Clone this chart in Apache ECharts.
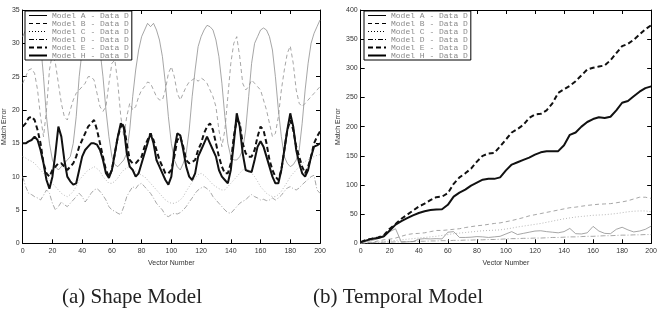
<!DOCTYPE html>
<html>
<head>
<meta charset="utf-8">
<script src="https://cdn.jsdelivr.net/npm/echarts@6/dist/echarts.min.js"></script>
<style>html,body{margin:0;padding:0;background:#fff}#c{width:660px;height:325px}</style>
</head>
<body>
<div id="c"></div>
<script>
// ---------- Data ----------
const seriesNames = ['Model A - Data D','Model B - Data D','Model C - Data D','Model D - Data D','Model E - Data D','Model H - Data D'];
const xTicks = [0,20,40,60,80,100,120,140,160,180,200];

// (a) Shape Model: x samples
const shapeX = [0,2,4,6,8,10,12,14,16,18,20,22,24,26,28,30,32,34,36,38,40,42,44,46,48,50,52,54,56,58,60,62,64,66,68,70,72,74,76,78,80,82,84,86,88,90,92,94,96,98,100,102,104,106,108,110,112,114,116,118,120,122,124,126,128,130,132,134,136,138,140,142,144,146,148,150,152,154,156,158,160,162,164,166,168,170,172,174,176,178,180,182,184,186,188,190,192,194,196,198,200];
const shapeA = [31,32,33,33.5,34,33,30,25,19,15,12.5,11.5,11,11.5,12,12.5,13,15,19,25,29,32,33.5,34,33.5,32,29,25,20,16,13,11.8,11.5,12,12.5,13.5,17,22,26,29,31,32,33,32.5,33,32,30.5,28,24,19,15,12.5,11.5,11,12,13.5,17,22,26,29.5,31,32,32.7,32.5,32,30.5,28,24,19,15,13,12.5,12.5,13,14,17,22,27,30,31,32,32.3,32,31,29,25,20,16,13,12,11.5,11.8,12.5,14,18,23,27,30,31.5,32.5,33.5];
const shapeB = [24,25,26,26.2,25.5,23,19,16,20,26,28.5,27,24,21,19,18.5,20,21.5,22.5,23,23.5,24,25,25,24.5,22.5,20.5,19.8,20.5,24,27,27.5,24,19,16,19,21,20,20.5,22,23,23.5,24.2,24,23,22,21.5,21.5,23,25.5,26.5,25,22.5,21.5,22.5,23.5,24.2,24.5,24.8,24.3,24.8,24.5,24,23,22,20.5,17,14.5,17,22,27,30,31,28,24,23,23.5,24.5,24,23.5,23,21.5,20,18,16,16.5,19,23,26,28.5,29.6,27,23,21,20.5,21,21.5,22,22.5,23,23.5];
const shapeC = [13,12.8,12.5,12.3,12,11.5,11,10.5,10,9.5,9,8.5,8,7.5,7.2,7,7.3,7.8,8.5,9.5,10,10.5,11,11.2,11.5,11.2,10.8,10,9.5,9,9,9.3,9.8,10.5,11,11.3,11.5,11.2,10.8,10.5,10.2,10,9.5,9,8.5,8,7.5,7,6.5,6.2,6,6,6.2,6.5,7,7.8,8.5,9.2,9.8,10.3,10.5,10.2,9.8,9.3,8.8,8.5,8.2,8,8,8.5,9,9.5,10,10.5,11,11.2,11,10.5,10,9.3,8.5,8,7.5,7.2,7,7,7.3,7.8,8.5,9.2,10,10.5,11,11.5,12,12.3,12.5,12.8,13,13.2,13.3];
const shapeD = [10,8.5,7.5,7.3,7,6.8,6.5,7.2,8,7.5,6,5,5.5,6.2,5.8,5.5,6,6.5,7,7.5,7,6.2,6.8,7.5,8,8.2,7.8,7.2,6.5,5.5,5,4.8,4.5,4.3,5.5,7,7.8,8.5,8.2,8.8,9,8.5,8,7.5,6.8,6,5.5,5,4.2,4,4.3,4.5,4.4,4.6,5,5.5,6.2,6.8,7.5,8,8.3,8.5,8.2,7.8,7,6.5,6,5.5,5,4.6,4.5,5,5.5,6,6.3,6.5,7,7.3,7,6.8,6.5,6.6,6.4,6.5,6.8,6.5,6.8,7.2,7.8,8.3,8.5,8.2,8,8.3,8.8,9.2,9.6,10,10.2,8,7.5];
const shapeE = [17.5,18,18.8,19,18.5,17,15,12,10.5,10,11,11.5,12,12,11.5,11,11.5,12,13,14.5,15.5,16.5,17.5,18,18.5,17,15,13,11,10,11,13.5,16,17.5,17.8,15,12.5,12,12,12.5,13,14.5,15.5,16.5,15.5,14,12.5,11.5,10.5,10.5,11,13,15.5,16,14.5,12.5,12,12.2,12.5,14,15,16.5,17.5,18,17,15,13,11.5,10.5,10.5,12,16,18.5,18,15,13.5,13,13,14,16,17.5,17,15,12.5,11,10,9.5,11,14,17,18.5,17,14.5,13,11.5,10.5,11.5,13,15,16,16.8];
const shapeH = [15,15,15.3,15.5,16,15.5,14,12,9.5,8.2,10,13.5,17.5,16,12.5,10,9.3,8.8,9,11,13,14,14.5,15,15,14.8,14,12.5,10.5,9.8,11,13.5,16,18,17.5,13.5,11.5,11,10,10.5,12,13.5,15,16.5,15,12.5,11.5,10.5,9.5,8.8,10,14,16.5,16.2,14,11.5,10,9.5,10.5,13,14,15,16,15,14,13,11,10,9.5,9,11,15,19.5,17.5,13.5,11,10.8,10.7,12.5,14.5,15.3,14.5,13,11.5,10,9,9,11,14,17,19.5,17.5,14,12,10.5,10,11,13,14.5,14.7,15];

// (b) Temporal Model: x samples
const tempX = [0,4,8,12,16,20,24,28,32,36,40,44,48,52,56,60,64,68,72,76,80,84,88,92,96,100,104,108,112,116,120,124,128,132,136,140,144,148,152,156,160,164,168,172,176,180,184,188,192,196,200];
const tempA = [2,3,5,8,11,20,25,2,2.5,3,7,8,7.5,8,7.5,19,20,10,10,10.5,11.5,11,10,11,12,16,20,15,17,19,21,21.5,20,19,18,20,25.5,16.5,16,18,29,21,17,16.5,24,27.5,23,19.5,21,24,29.5];
const tempB = [0,1,2,4,6,7,9,12,15,16.5,17,18,20,22,22,23,24,25,27,28.5,30,31,32.5,34,35,37,39,41.5,44,47,49,51,53,55,57,59,61,62,63.5,65,66,67,67.5,68,69.5,71,73,76,79,79,77];
const tempC = [0,0.5,1,2,3,4,5,6,7,8,9,10,11,12,13.5,15,16.5,17.5,18.5,19.5,20.5,21.5,22,22.5,23,24.5,26,28,29.5,31,32.5,34,36,38,40,42,43.5,45,46,47,48,48.5,49,50,51,52.5,54,55,55.5,55.5,54];
const tempD = [0,0.5,1,1.5,2,2,2.5,2.5,3,3,3.5,3.5,4,4,4.5,4.5,5,5,5.5,5.5,6,6,6.5,6.5,7,7.5,8,8,8.5,8.5,9,9,9.5,10,10,10.5,11,11,11.5,12,12,12.5,13,13,13.5,14,14,14.5,14.5,15,15];
const tempE = [2,6,8,10,14,25,33,42,49,56,63,68,74,79,80,86,102,113,120,128,140,150,154,155,166,178,190,196,203,215,221,222,228,240,258,264,270,278,288,298,301,303,305,314,326,338,342,349,358,367,374];
const tempH = [2,5,8,9,12,22,32,38,43,48,52,55,57,58,58.5,66,80,87,92,99,104,109,110.5,110.5,113,125,135,139,143,147,152,156,158,158,158,168,186,190,200,208,213,216,215,217,228,241,244,252,260,266,269];

// ---------- Chart ----------
const styles = [
  {color:'#8f8f8f', width:0.8, type:'solid'},
  {color:'#8f8f8f', width:0.8, type:[4,3]},
  {color:'#b0b0b0', width:0.9, type:[1,2]},
  {color:'#909090', width:0.8, type:[5,2,1,2]},
  {color:'#111111', width:2, type:[5,3]},
  {color:'#111111', width:2, type:'solid'}
];
const legendDash = ['solid',[4,3],[1,2],[5,2,1,2],[5,3],'solid'];
const pair = (xs, ys) => xs.map((x,i)=>[x, ys[i]]);
const shapeSets = [shapeA,shapeB,shapeC,shapeD,shapeE,shapeH];
const tempSets = [tempA,tempB,tempC,tempD,tempE,tempH];

const axisFont = {fontFamily:'Liberation Sans', fontSize:7, color:'#333'};
function mkX(g, pos, labels){
  return {type:'value', gridIndex:g, position:pos, min:0, max:200, interval:20,
    axisLine:{show:true, onZero:false, lineStyle:{color:'#000', width:1}},
    axisTick:{show:true, inside:true, length:4, lineStyle:{color:'#000'}},
    axisLabel:Object.assign({show:labels, margin:4}, axisFont),
    splitLine:{show:false},
    name: labels ? 'Vector Number' : '', nameLocation:'middle', nameGap:12,
    nameTextStyle:{fontFamily:'Liberation Sans', fontSize:7, color:'#333'}};
}
function mkY(g, pos, labels, max, step){
  return {type:'value', gridIndex:g, position:pos, min:0, max:max, interval:step,
    axisLine:{show:true, onZero:false, lineStyle:{color:'#000', width:1}},
    axisTick:{show:true, inside:true, length:4, lineStyle:{color:'#000'}},
    axisLabel:Object.assign({show:labels, margin:3}, axisFont),
    splitLine:{show:false},
    name: labels ? 'Match Error' : '', nameLocation:'middle', nameGap: max>100 ? 19 : 12,
    nameTextStyle:{fontFamily:'Liberation Sans', fontSize:7, color:'#333'}};
}
const series = [];
seriesNames.forEach((n,i)=>{
  series.push({name:n, type:'line', xAxisIndex:0, yAxisIndex:0, symbol:'none', showSymbol:false,
    lineStyle:styles[i], itemStyle:{color:styles[i].color}, z: i>=4?3:2,
    data: pair(shapeX, shapeSets[i]), animation:false});
});
seriesNames.forEach((n,i)=>{
  series.push({name:n, type:'line', xAxisIndex:2, yAxisIndex:2, symbol:'none', showSymbol:false,
    lineStyle:styles[i], itemStyle:{color:styles[i].color}, z: i>=4?3:2,
    data: pair(tempX, tempSets[i]), animation:false});
});
function mkLegend(left){
  return {orient:'vertical', left:left, top:11, itemGap:0, itemWidth:18, itemHeight:8,
    padding:[0.5,3,0.5,3], borderColor:'#000', borderWidth:1, backgroundColor:'#fff',
    selectedMode:false,
    itemStyle:{opacity:0},
    lineStyle:{color:'#000', opacity:1},
    data: seriesNames.map((n,i)=>({name:n,
      lineStyle:{color:'#000', opacity:1, width: i>=4?2:1, type: legendDash[i]},
      itemStyle:{opacity:0, borderWidth:0}})),
    textStyle:{fontFamily:'Liberation Mono', fontSize:8, lineHeight:8, color:'#8a8a8a'}};
}
const chart = echarts.init(document.getElementById('c'), null, {renderer:'canvas'});
chart.setOption({
  animation:false,
  backgroundColor:'#fff',
  grid:[{left:22.7, top:10, width:297.3, height:233.3},{left:360.7, top:10, width:294.3, height:233.3}],
  xAxis:[mkX(0,'bottom',true), mkX(0,'top',false), mkX(1,'bottom',true), mkX(1,'top',false)],
  yAxis:[mkY(0,'left',true,35,5), mkY(0,'right',false,35,5), mkY(1,'left',true,400,50), mkY(1,'right',false,400,50)],
  legend:[mkLegend(25), mkLegend(364)],
  series: series,
  graphic:[
    {type:'text', x:132, y:297, style:{text:'(a) Shape Model', font:'21px "Liberation Serif"', fill:'#222', textAlign:'center', textVerticalAlign:'middle'}},
    {type:'text', x:398, y:297, style:{text:'(b) Temporal Model', font:'21px "Liberation Serif"', fill:'#222', textAlign:'center', textVerticalAlign:'middle'}}
  ]
});
</script>
</body>
</html>
